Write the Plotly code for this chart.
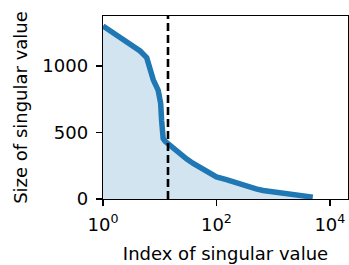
import plotly.graph_objects as go

index_vals = [1, 1.5, 2.3, 3.4, 4.5, 5.9, 6.7, 7.7, 9.4, 10.4, 10.8, 11.2, 11.5, 12.5, 14, 15,
              20, 23, 30, 39, 55, 76, 100, 150, 200, 240, 340, 500, 665, 1000, 1310, 2000,
              2570, 3500, 5000]
singular_vals = [1300, 1250, 1200, 1157, 1112, 1062, 988, 895, 817, 717, 592, 480, 455, 432, 414, 398,
                 365, 343, 300, 267, 228, 193, 166, 146, 128, 118, 95, 76, 64, 53, 46, 38,
                 32, 24, 14]
cutoff_index = 14
x_tick_vals = [1, 100, 10000]
x_tick_text = ["10<sup>0</sup>", "10<sup>2</sup>", "10<sup>4</sup>"]
y_tick_vals = [0, 500, 1000]

fig = go.Figure()
fig.add_trace(go.Scatter(
    x=index_vals, y=singular_vals, mode="lines",
    line=dict(color="#1f77b4", width=5.5),
    fill="tozeroy", fillcolor="rgba(31,119,180,0.2)",
    showlegend=False, hoverinfo="skip",
))
fig.add_shape(type="line", xref="x", yref="paper",
              x0=cutoff_index, x1=cutoff_index, y0=0, y1=1,
              line=dict(color="black", width=2.6, dash="8px,4px"))

font = dict(family="DejaVu Sans", size=18, color="black")
fig.update_layout(
    width=349, height=265,
    margin=dict(l=103, r=1, t=16, b=66),
    plot_bgcolor="white", paper_bgcolor="white",
    font=font,
)
fig.update_xaxes(
    type="log", range=[0, 4.32], automargin=False,
    tickvals=x_tick_vals, ticktext=x_tick_text, ticklabelstandoff=3,
    ticks="outside", ticklen=6, tickwidth=1.3, tickcolor="black",
    showline=True, linecolor="black", linewidth=1.3, mirror=True,
    showgrid=False, zeroline=False,
    title=dict(text="Index of singular value", font=font, standoff=13),
)
fig.update_yaxes(
    range=[0, 1375], automargin=False,
    tickvals=y_tick_vals, ticklabelstandoff=4,
    ticks="outside", ticklen=6, tickwidth=1.3, tickcolor="black",
    showline=True, linecolor="black", linewidth=1.3, mirror=True,
    showgrid=False, zeroline=False,
    title=dict(text="Size of singular value", font=font, standoff=10),
)

fig.write_html(
    "out.html",
    config={"displayModeBar": False, "staticPlot": True},
    post_script="document.body.style.margin='0';document.body.style.overflow='hidden';",
)
